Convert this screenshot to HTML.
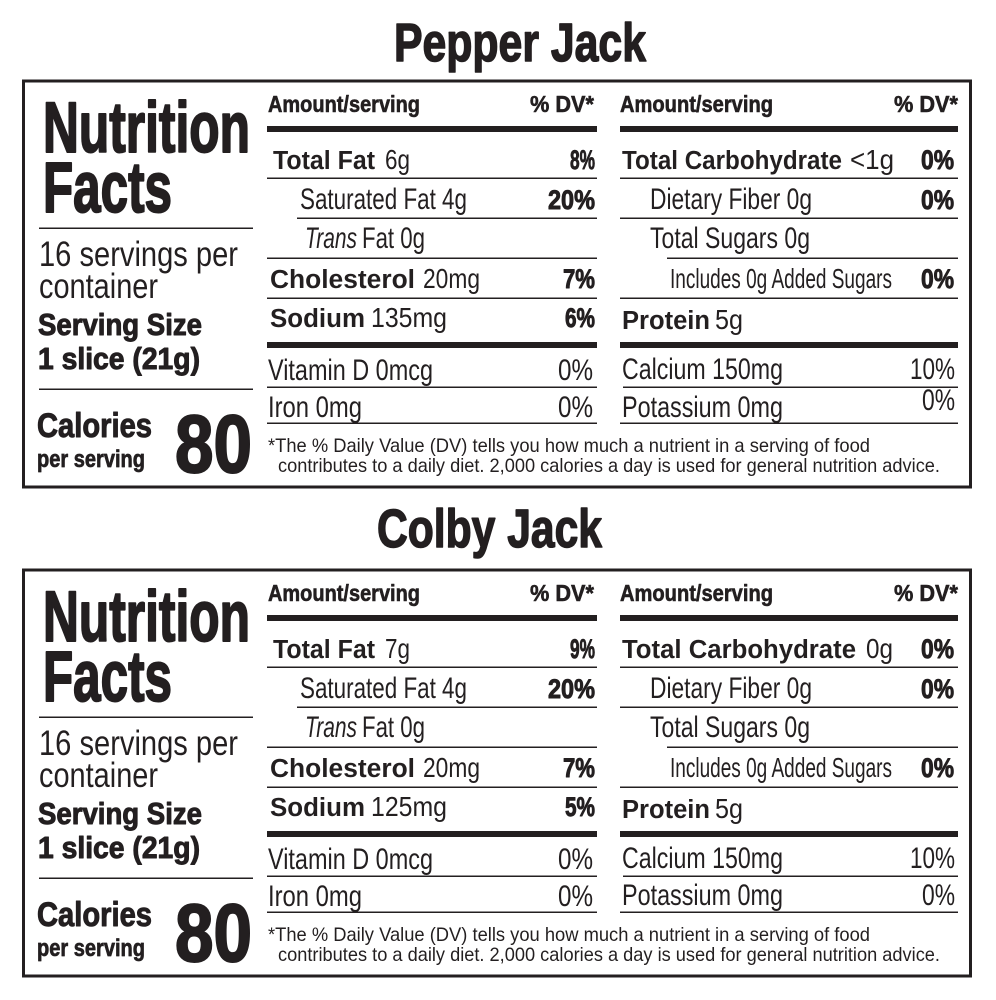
<!DOCTYPE html>
<html>
<head>
<meta charset="utf-8">
<style>
html,body{margin:0;padding:0;background:#fff;}
svg{display:block;}
text{font-family:"Liberation Sans",Arial,sans-serif;fill:#231f20;}
.k{font-weight:bold;stroke:#231f20;stroke-linejoin:round;}
.b{font-weight:bold;}
.i{font-style:italic;}
rect{fill:#231f20;}
rect.box{fill:none;stroke:#231f20;stroke-width:3;}
</style>
</head>
<body>
<svg width="996" height="1000" viewBox="0 0 996 1000" xmlns="http://www.w3.org/2000/svg">
<rect x="0" y="0" width="996" height="1000" style="fill:#fff"/>

<text x="394" y="61" font-size="54" class="k" stroke-width="1.5" textLength="252" lengthAdjust="spacingAndGlyphs">Pepper Jack</text>

<g>
<rect class="box" x="23.5" y="81" width="947" height="406"/>
<text x="43" y="152" font-size="71" class="k" stroke-width="2" textLength="207" lengthAdjust="spacingAndGlyphs">Nutrition</text>
<text x="43" y="212" font-size="71" class="k" stroke-width="2" textLength="129" lengthAdjust="spacingAndGlyphs">Facts</text>
<rect x="39" y="227.5" width="214" height="1.5"/>
<text x="39" y="266" font-size="35" textLength="199" lengthAdjust="spacingAndGlyphs">16 servings per</text>
<text x="39" y="298" font-size="35" textLength="119" lengthAdjust="spacingAndGlyphs">container</text>
<text x="38" y="335" font-size="31" class="k" stroke-width="1" textLength="164" lengthAdjust="spacingAndGlyphs">Serving Size</text>
<text x="38" y="369" font-size="31" class="k" stroke-width="1" textLength="162" lengthAdjust="spacingAndGlyphs">1 slice (21g)</text>
<rect x="39" y="388.5" width="214" height="1.5"/>
<text x="37" y="437" font-size="34" class="k" stroke-width="1" textLength="115" lengthAdjust="spacingAndGlyphs">Calories</text>
<text x="37" y="467" font-size="24" class="k" stroke-width="0.7" textLength="108" lengthAdjust="spacingAndGlyphs">per serving</text>
<text x="175" y="472" font-size="82" class="k" stroke-width="2" textLength="77" lengthAdjust="spacingAndGlyphs">80</text>

<text x="268" y="112" font-size="23" class="k" stroke-width="0.6" textLength="152" lengthAdjust="spacingAndGlyphs">Amount/serving</text>
<text x="530" y="112" font-size="23" class="k" stroke-width="0.6" textLength="64" lengthAdjust="spacingAndGlyphs">% DV*</text>
<rect x="267" y="126" width="330" height="6"/>
<text x="273" y="169" font-size="25.5" class="b" textLength="102" lengthAdjust="spacingAndGlyphs">Total Fat</text>
<text x="385" y="169" font-size="27.5" textLength="25" lengthAdjust="spacingAndGlyphs">6g</text>
<text x="570" y="169" font-size="27" class="k" stroke-width="0.9" textLength="25" lengthAdjust="spacingAndGlyphs">8%</text>
<rect x="267" y="177.5" width="330" height="1.5"/>
<text x="300" y="209" font-size="30" textLength="167" lengthAdjust="spacingAndGlyphs">Saturated Fat 4g</text>
<text x="548" y="209" font-size="27" class="k" stroke-width="0.9" textLength="47" lengthAdjust="spacingAndGlyphs">20%</text>
<rect x="297" y="217.5" width="300" height="1.5"/>
<text x="305" y="248" font-size="30" class="i" textLength="52" lengthAdjust="spacingAndGlyphs">Trans</text>
<text x="362" y="248" font-size="30" textLength="63" lengthAdjust="spacingAndGlyphs">Fat 0g</text>
<rect x="267" y="257.5" width="330" height="1.5"/>
<text x="270" y="288" font-size="25.5" class="b" textLength="145" lengthAdjust="spacingAndGlyphs">Cholesterol</text>
<text x="423" y="288" font-size="27.5" textLength="57" lengthAdjust="spacingAndGlyphs">20mg</text>
<text x="563" y="288" font-size="27" class="k" stroke-width="0.9" textLength="32" lengthAdjust="spacingAndGlyphs">7%</text>
<rect x="267" y="297.5" width="330" height="1.5"/>
<text x="270" y="327" font-size="25.5" class="b" textLength="95" lengthAdjust="spacingAndGlyphs">Sodium</text>
<text x="371" y="327" font-size="27.5" textLength="76" lengthAdjust="spacingAndGlyphs">135mg</text>
<text x="565" y="327" font-size="27" class="k" stroke-width="0.9" textLength="30" lengthAdjust="spacingAndGlyphs">6%</text>
<rect x="267" y="342" width="330" height="6"/>
<text x="268" y="380" font-size="30" textLength="165" lengthAdjust="spacingAndGlyphs">Vitamin D 0mcg</text>
<text x="558" y="380" font-size="30" textLength="35" lengthAdjust="spacingAndGlyphs">0%</text>
<rect x="267" y="386.5" width="330" height="1.5"/>
<text x="268" y="417" font-size="30" textLength="94" lengthAdjust="spacingAndGlyphs">Iron 0mg</text>
<text x="558" y="417" font-size="30" textLength="35" lengthAdjust="spacingAndGlyphs">0%</text>
<rect x="267" y="422.5" width="330" height="1.5"/>
<text x="268" y="452" font-size="19.5" textLength="602" lengthAdjust="spacingAndGlyphs">*The % Daily Value (DV) tells you how much a nutrient in a serving of food</text>
<text x="278" y="472" font-size="19.5" textLength="662" lengthAdjust="spacingAndGlyphs">contributes to a daily diet. 2,000 calories a day is used for general nutrition advice.</text>

<text x="620" y="112" font-size="23" class="k" stroke-width="0.6" textLength="153" lengthAdjust="spacingAndGlyphs">Amount/serving</text>
<text x="894" y="112" font-size="23" class="k" stroke-width="0.6" textLength="64" lengthAdjust="spacingAndGlyphs">% DV*</text>
<rect x="620" y="126" width="338" height="6"/>
<text x="622" y="169" font-size="25.5" class="b" textLength="220" lengthAdjust="spacingAndGlyphs">Total Carbohydrate</text>
<text x="850" y="169" font-size="27.5" textLength="44" lengthAdjust="spacingAndGlyphs">&lt;1g</text>
<text x="921" y="169" font-size="27" class="k" stroke-width="0.9" textLength="33" lengthAdjust="spacingAndGlyphs">0%</text>
<rect x="620" y="177.5" width="338" height="1.5"/>
<text x="650" y="209" font-size="30" textLength="162" lengthAdjust="spacingAndGlyphs">Dietary Fiber 0g</text>
<text x="921" y="209" font-size="27" class="k" stroke-width="0.9" textLength="33" lengthAdjust="spacingAndGlyphs">0%</text>
<rect x="620" y="217.5" width="338" height="1.5"/>
<text x="650" y="248" font-size="30" textLength="160" lengthAdjust="spacingAndGlyphs">Total Sugars 0g</text>
<rect x="667" y="257.5" width="291" height="1.5"/>
<text x="670" y="288" font-size="28" textLength="222" lengthAdjust="spacingAndGlyphs">Includes 0g Added Sugars</text>
<text x="921" y="288" font-size="27" class="k" stroke-width="0.9" textLength="33" lengthAdjust="spacingAndGlyphs">0%</text>
<rect x="620" y="297.5" width="338" height="1.5"/>
<text x="622" y="329" font-size="25.5" class="b" textLength="88" lengthAdjust="spacingAndGlyphs">Protein</text>
<text x="715" y="329" font-size="27.5" textLength="28" lengthAdjust="spacingAndGlyphs">5g</text>
<rect x="620" y="342" width="338" height="6"/>
<text x="622" y="379" font-size="30" textLength="161" lengthAdjust="spacingAndGlyphs">Calcium 150mg</text>
<text x="910" y="379" font-size="30" textLength="45" lengthAdjust="spacingAndGlyphs">10%</text>
<rect x="623" y="386.5" width="335" height="1.5"/>
<text x="622" y="417" font-size="30" textLength="161" lengthAdjust="spacingAndGlyphs">Potassium 0mg</text>
<text x="922" y="410" font-size="30" textLength="33" lengthAdjust="spacingAndGlyphs">0%</text>
<rect x="620" y="422.5" width="338" height="1.5"/>
</g>

<text x="377" y="547" font-size="54" class="k" stroke-width="1.5" textLength="225" lengthAdjust="spacingAndGlyphs">Colby Jack</text>

<g transform="translate(0,489)">
<rect class="box" x="23.5" y="81" width="947" height="406"/>
<text x="43" y="152" font-size="71" class="k" stroke-width="2" textLength="207" lengthAdjust="spacingAndGlyphs">Nutrition</text>
<text x="43" y="212" font-size="71" class="k" stroke-width="2" textLength="129" lengthAdjust="spacingAndGlyphs">Facts</text>
<rect x="39" y="227.5" width="214" height="1.5"/>
<text x="39" y="266" font-size="35" textLength="199" lengthAdjust="spacingAndGlyphs">16 servings per</text>
<text x="39" y="298" font-size="35" textLength="119" lengthAdjust="spacingAndGlyphs">container</text>
<text x="38" y="335" font-size="31" class="k" stroke-width="1" textLength="164" lengthAdjust="spacingAndGlyphs">Serving Size</text>
<text x="38" y="369" font-size="31" class="k" stroke-width="1" textLength="162" lengthAdjust="spacingAndGlyphs">1 slice (21g)</text>
<rect x="39" y="388.5" width="214" height="1.5"/>
<text x="37" y="437" font-size="34" class="k" stroke-width="1" textLength="115" lengthAdjust="spacingAndGlyphs">Calories</text>
<text x="37" y="467" font-size="24" class="k" stroke-width="0.7" textLength="108" lengthAdjust="spacingAndGlyphs">per serving</text>
<text x="175" y="472" font-size="82" class="k" stroke-width="2" textLength="77" lengthAdjust="spacingAndGlyphs">80</text>

<text x="268" y="112" font-size="23" class="k" stroke-width="0.6" textLength="152" lengthAdjust="spacingAndGlyphs">Amount/serving</text>
<text x="530" y="112" font-size="23" class="k" stroke-width="0.6" textLength="64" lengthAdjust="spacingAndGlyphs">% DV*</text>
<rect x="267" y="126" width="330" height="6"/>
<text x="273" y="169" font-size="25.5" class="b" textLength="102" lengthAdjust="spacingAndGlyphs">Total Fat</text>
<text x="385" y="169" font-size="27.5" textLength="25" lengthAdjust="spacingAndGlyphs">7g</text>
<text x="570" y="169" font-size="27" class="k" stroke-width="0.9" textLength="25" lengthAdjust="spacingAndGlyphs">9%</text>
<rect x="267" y="177.5" width="330" height="1.5"/>
<text x="300" y="209" font-size="30" textLength="167" lengthAdjust="spacingAndGlyphs">Saturated Fat 4g</text>
<text x="548" y="209" font-size="27" class="k" stroke-width="0.9" textLength="47" lengthAdjust="spacingAndGlyphs">20%</text>
<rect x="297" y="217.5" width="300" height="1.5"/>
<text x="305" y="248" font-size="30" class="i" textLength="52" lengthAdjust="spacingAndGlyphs">Trans</text>
<text x="362" y="248" font-size="30" textLength="63" lengthAdjust="spacingAndGlyphs">Fat 0g</text>
<rect x="267" y="257.5" width="330" height="1.5"/>
<text x="270" y="288" font-size="25.5" class="b" textLength="145" lengthAdjust="spacingAndGlyphs">Cholesterol</text>
<text x="423" y="288" font-size="27.5" textLength="57" lengthAdjust="spacingAndGlyphs">20mg</text>
<text x="563" y="288" font-size="27" class="k" stroke-width="0.9" textLength="32" lengthAdjust="spacingAndGlyphs">7%</text>
<rect x="267" y="297.5" width="330" height="1.5"/>
<text x="270" y="327" font-size="25.5" class="b" textLength="95" lengthAdjust="spacingAndGlyphs">Sodium</text>
<text x="371" y="327" font-size="27.5" textLength="76" lengthAdjust="spacingAndGlyphs">125mg</text>
<text x="565" y="327" font-size="27" class="k" stroke-width="0.9" textLength="30" lengthAdjust="spacingAndGlyphs">5%</text>
<rect x="267" y="342" width="330" height="6"/>
<text x="268" y="380" font-size="30" textLength="165" lengthAdjust="spacingAndGlyphs">Vitamin D 0mcg</text>
<text x="558" y="380" font-size="30" textLength="35" lengthAdjust="spacingAndGlyphs">0%</text>
<rect x="267" y="386.5" width="330" height="1.5"/>
<text x="268" y="417" font-size="30" textLength="94" lengthAdjust="spacingAndGlyphs">Iron 0mg</text>
<text x="558" y="417" font-size="30" textLength="35" lengthAdjust="spacingAndGlyphs">0%</text>
<rect x="267" y="422.5" width="330" height="1.5"/>
<text x="268" y="452" font-size="19.5" textLength="602" lengthAdjust="spacingAndGlyphs">*The % Daily Value (DV) tells you how much a nutrient in a serving of food</text>
<text x="278" y="472" font-size="19.5" textLength="662" lengthAdjust="spacingAndGlyphs">contributes to a daily diet. 2,000 calories a day is used for general nutrition advice.</text>

<text x="620" y="112" font-size="23" class="k" stroke-width="0.6" textLength="153" lengthAdjust="spacingAndGlyphs">Amount/serving</text>
<text x="894" y="112" font-size="23" class="k" stroke-width="0.6" textLength="64" lengthAdjust="spacingAndGlyphs">% DV*</text>
<rect x="620" y="126" width="338" height="6"/>
<text x="622" y="169" font-size="25.5" class="b" textLength="234" lengthAdjust="spacingAndGlyphs">Total Carbohydrate</text>
<text x="866" y="169" font-size="27.5" textLength="27" lengthAdjust="spacingAndGlyphs">0g</text>
<text x="921" y="169" font-size="27" class="k" stroke-width="0.9" textLength="33" lengthAdjust="spacingAndGlyphs">0%</text>
<rect x="620" y="177.5" width="338" height="1.5"/>
<text x="650" y="209" font-size="30" textLength="162" lengthAdjust="spacingAndGlyphs">Dietary Fiber 0g</text>
<text x="921" y="209" font-size="27" class="k" stroke-width="0.9" textLength="33" lengthAdjust="spacingAndGlyphs">0%</text>
<rect x="620" y="217.5" width="338" height="1.5"/>
<text x="650" y="248" font-size="30" textLength="160" lengthAdjust="spacingAndGlyphs">Total Sugars 0g</text>
<rect x="667" y="257.5" width="291" height="1.5"/>
<text x="670" y="288" font-size="28" textLength="222" lengthAdjust="spacingAndGlyphs">Includes 0g Added Sugars</text>
<text x="921" y="288" font-size="27" class="k" stroke-width="0.9" textLength="33" lengthAdjust="spacingAndGlyphs">0%</text>
<rect x="620" y="297.5" width="338" height="1.5"/>
<text x="622" y="329" font-size="25.5" class="b" textLength="88" lengthAdjust="spacingAndGlyphs">Protein</text>
<text x="715" y="329" font-size="27.5" textLength="28" lengthAdjust="spacingAndGlyphs">5g</text>
<rect x="620" y="342" width="338" height="6"/>
<text x="622" y="379" font-size="30" textLength="161" lengthAdjust="spacingAndGlyphs">Calcium 150mg</text>
<text x="910" y="379" font-size="30" textLength="45" lengthAdjust="spacingAndGlyphs">10%</text>
<rect x="623" y="386.5" width="335" height="1.5"/>
<text x="622" y="416" font-size="30" textLength="161" lengthAdjust="spacingAndGlyphs">Potassium 0mg</text>
<text x="922" y="416" font-size="30" textLength="33" lengthAdjust="spacingAndGlyphs">0%</text>
<rect x="620" y="422.5" width="338" height="1.5"/>
</g>
</svg>
</body>
</html>
